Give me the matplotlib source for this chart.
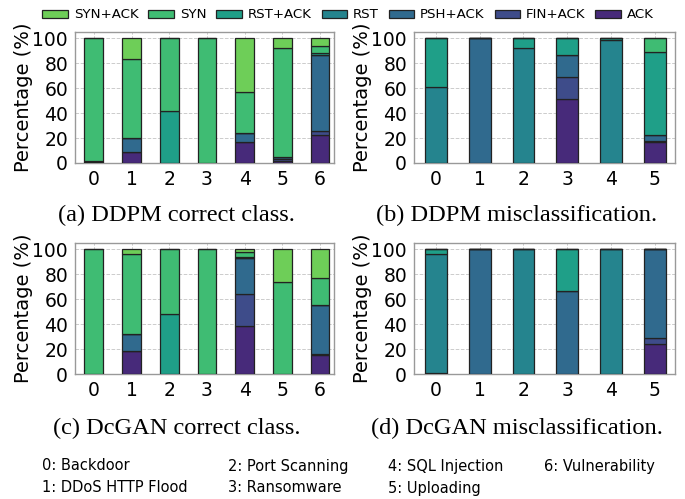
import numpy as np
import matplotlib.pyplot as plt

flags = ["ACK", "FIN+ACK", "PSH+ACK", "RST", "RST+ACK", "SYN", "SYN+ACK"]
colors = plt.cm.viridis([0.12, 0.23, 0.34, 0.45, 0.56, 0.69, 0.78])

# percentages per class, stacked bottom to top in the order of `flags`
ddpm_correct = {
    "ACK":     [0.0, 8.6, 0.0, 0.0, 16.6, 2.0, 22.5],
    "FIN+ACK": [0.5, 0.0, 0.0, 0.0, 0.0, 1.0, 3.2],
    "PSH+ACK": [1.5, 11.8, 0.0, 0.0, 7.8, 1.6, 61.2],
    "RST":     [0.0, 0.0, 0.0, 0.0, 0.0, 0.0, 0.0],
    "RST+ACK": [0.0, 0.0, 41.8, 0.0, 0.0, 0.0, 1.1],
    "SYN":     [98.0, 62.7, 58.2, 100.0, 32.7, 87.4, 5.8],
    "SYN+ACK": [0.0, 16.9, 0.0, 0.0, 42.9, 8.0, 6.2],
}
ddpm_miscls = {
    "ACK":     [0.0, 0.0, 0.0, 51.5, 0.0, 16.6],
    "FIN+ACK": [0.0, 0.0, 0.0, 17.1, 0.0, 0.9],
    "PSH+ACK": [0.0, 100.0, 0.0, 17.7, 0.0, 4.8],
    "RST":     [60.6, 0.0, 92.5, 0.0, 98.4, 0.0],
    "RST+ACK": [39.4, 0.0, 7.5, 13.7, 1.6, 66.4],
    "SYN":     [0.0, 0.0, 0.0, 0.0, 0.0, 11.3],
    "SYN+ACK": [0.0, 0.0, 0.0, 0.0, 0.0, 0.0],
}
dcgan_correct = {
    "ACK":     [0.0, 18.4, 0.0, 0.0, 38.1, 0.0, 15.5],
    "FIN+ACK": [0.0, 0.0, 0.0, 0.0, 25.9, 0.0, 0.5],
    "PSH+ACK": [0.0, 13.6, 0.0, 0.0, 28.8, 0.0, 39.2],
    "RST":     [0.0, 0.0, 0.0, 0.0, 0.0, 0.0, 0.0],
    "RST+ACK": [0.0, 0.0, 47.7, 0.0, 0.7, 0.0, 0.0],
    "SYN":     [100.0, 64.0, 52.3, 100.0, 4.5, 74.1, 21.6],
    "SYN+ACK": [0.0, 4.0, 0.0, 0.0, 2.0, 25.9, 23.2],
}
dcgan_miscls = {
    "ACK":     [0.0, 0.0, 0.0, 0.0, 0.0, 24.0],
    "FIN+ACK": [0.0, 0.0, 0.0, 0.0, 0.0, 4.5],
    "PSH+ACK": [0.8, 100.0, 0.0, 66.4, 0.0, 71.5],
    "RST":     [95.2, 0.0, 100.0, 0.0, 100.0, 0.0],
    "RST+ACK": [4.0, 0.0, 0.0, 33.6, 0.0, 0.0],
    "SYN":     [0.0, 0.0, 0.0, 0.0, 0.0, 0.0],
    "SYN+ACK": [0.0, 0.0, 0.0, 0.0, 0.0, 0.0],
}

captions = ["(a) DDPM correct class.", "(b) DDPM misclassification.",
            "(c) DcGAN correct class.", "(d) DcGAN misclassification."]
class_names = ["0: Backdoor", "1: DDoS HTTP Flood", "2: Port Scanning",
               "3: Ransomware", "4: SQL Injection", "5: Uploading",
               "6: Vulnerability"]

W, H = 685, 499
fig = plt.figure(figsize=(W / 100, H / 100), dpi=100)


def px_axes(left, right, top, bottom):
    return fig.add_axes([left / W, 1 - bottom / H, (right - left) / W, (bottom - top) / H])


def stacked(ax, data, xmax, label_x):
    n = len(data["ACK"])
    x = np.arange(n)
    bottom = np.zeros(n)
    bars = []
    for flag, c in zip(flags, colors):
        vals = np.array(data[flag])
        b = ax.bar(x, vals, 0.5, bottom=bottom, color=c, edgecolor="#222222",
                   linewidth=0.9, label=flag, zorder=3)
        bars.append(b)
        bottom += vals
    ax.set_xlim(-0.5, xmax)
    ax.set_ylim(0, 105)
    ax.set_xticks(x)
    ax.set_yticks([0, 20, 40, 60, 80, 100])
    ax.tick_params(labelsize=13.5, length=0, pad=5)
    ax.grid(True, linestyle="--", color="#cccccc", linewidth=0.7, zorder=0)
    for s in ax.spines.values():
        s.set_color("#999999")
        s.set_linewidth(1.0)
    ax.set_ylabel("Percentage (%)", fontsize=14)
    ax.yaxis.set_label_coords(label_x, 0.5)
    return bars


ax_a = px_axes(75, 334, 32, 163)
ax_b = px_axes(414, 675, 32, 163)
ax_c = px_axes(75, 334, 243, 374)
ax_d = px_axes(414, 675, 243, 374)

bars = stacked(ax_a, ddpm_correct, 6.37, -0.162)
stacked(ax_b, ddpm_miscls, 5.46, -0.161)
stacked(ax_c, dcgan_correct, 6.37, -0.162)
stacked(ax_d, dcgan_miscls, 5.46, -0.161)

serif = ["Liberation Serif", "DejaVu Serif"]
for (cx, cy), txt in zip([(176, 215), (517, 215), (177, 428), (517, 428)], captions):
    fig.text(cx / W, 1 - cy / H, txt, ha="center", va="center",
             fontsize=17.6, family=serif)

# flag legend across the top, lightest flag first
handles = [b.patches[0] for b in bars][::-1]
fig.legend(handles, flags[::-1], loc="center", bbox_to_anchor=(348 / W, 1 - 15 / H),
           ncol=7, frameon=False, fontsize=9.6, handlelength=1.9, handleheight=0.6,
           handletextpad=0.45, columnspacing=0.75, borderaxespad=0)

# class index key at the bottom
col_x = [42, 228, 388, 544]
row_y = [466, 488]
for i, name in enumerate(class_names):
    fig.text(col_x[i // 2] / W, 1 - row_y[i % 2] / H, name, ha="left", va="center",
             fontsize=10.5)

fig.savefig("out.png", dpi=100)
